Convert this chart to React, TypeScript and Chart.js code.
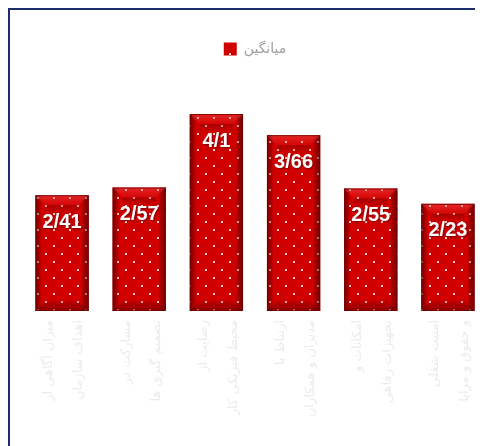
import { useEffect, useRef } from "react";
import { Chart, registerables } from "chart.js";

Chart.register(...registerables);

const categories: string[][] = [
  ["میزان آگاهی از", "اهداف سازمان"],
  ["مشارکت در", "تصمیم گیری ها"],
  ["رضایت از", "محیط فیزیکی کار"],
  ["ارتباط با", "مدیران و همکاران"],
  ["امکانات و", "تجهیزات رفاهی"],
  ["امنیت شغلی", "و حقوق و مزایا"],
];
const values: number[] = [2.41, 2.57, 4.1, 3.66, 2.55, 2.23];
const seriesName = "میانگین";

const fmt = (v: number) => String(v).replace(".", "/");

export default function App() {
  const ref = useRef<HTMLCanvasElement>(null);

  useEffect(() => {
    const canvas = ref.current!;
    const tile = document.createElement("canvas");
    tile.width = 16;
    tile.height = 16;
    const t = tile.getContext("2d")!;
    t.fillStyle = "#d00000";
    t.fillRect(0, 0, 16, 16);
    t.fillStyle = "rgba(255,230,230,0.9)";
    t.fillRect(3, 3, 2, 2);
    t.fillRect(11, 11, 2, 2);
    const pattern = canvas.getContext("2d")!.createPattern(tile, "repeat")!;

    const bevel = {
      id: "bevel",
      afterDatasetsDraw(chart: any) {
        const ctx = chart.ctx as CanvasRenderingContext2D;
        const meta = chart.getDatasetMeta(0);
        meta.data.forEach((el: any, i: number) => {
          const { x, y, base, width } = el.getProps(["x", "y", "base", "width"], true);
          const l = x - width / 2;
          const r = x + width / 2;
          const top = y;
          const bot = base;
          ctx.save();
          const g = ctx.createLinearGradient(l, 0, r, 0);
          g.addColorStop(0, "rgba(70,0,0,0.6)");
          g.addColorStop(0.12, "rgba(0,0,0,0)");
          g.addColorStop(0.86, "rgba(0,0,0,0)");
          g.addColorStop(1, "rgba(70,0,0,0.65)");
          ctx.fillStyle = g;
          ctx.fillRect(l, top, r - l, bot - top);
          const b = 10;
          const gt = ctx.createLinearGradient(0, top, 0, top + b);
          gt.addColorStop(0, "rgba(255,90,90,0.45)");
          gt.addColorStop(1, "rgba(255,60,60,0.1)");
          ctx.fillStyle = gt;
          ctx.beginPath();
          ctx.moveTo(l, top);
          ctx.lineTo(r, top);
          ctx.lineTo(r - b, top + b);
          ctx.lineTo(l + b, top + b);
          ctx.closePath();
          ctx.fill();
          const gs = ctx.createLinearGradient(0, top + b, 0, top + b + 8);
          gs.addColorStop(0, "rgba(90,0,0,0.35)");
          gs.addColorStop(1, "rgba(90,0,0,0)");
          ctx.fillStyle = gs;
          ctx.fillRect(l + b, top + b, r - l - 2 * b, 8);
          const gb = ctx.createLinearGradient(0, bot - b, 0, bot);
          gb.addColorStop(0, "rgba(80,0,0,0.15)");
          gb.addColorStop(1, "rgba(80,0,0,0.5)");
          ctx.fillStyle = gb;
          ctx.beginPath();
          ctx.moveTo(l + b, bot - b);
          ctx.lineTo(r - b, bot - b);
          ctx.lineTo(r, bot);
          ctx.lineTo(l, bot);
          ctx.closePath();
          ctx.fill();
          ctx.strokeStyle = "rgba(110,0,0,0.8)";
          ctx.lineWidth = 1;
          ctx.strokeRect(l + 0.5, top + 0.5, r - l - 1, bot - top - 1);

          ctx.font = "bold 20px 'Liberation Sans', Arial, sans-serif";
          ctx.textAlign = "center";
          ctx.textBaseline = "middle";
          ctx.shadowColor = "rgba(60,0,0,0.6)";
          ctx.shadowBlur = 2;
          ctx.shadowOffsetX = 1;
          ctx.shadowOffsetY = 1;
          ctx.fillStyle = "#ffffff";
          ctx.fillText(fmt(values[i]), x, top + 27);
          ctx.restore();
        });
      },
    };

    const chart = new Chart(canvas, {
      type: "bar",
      data: {
        labels: categories,
        datasets: [
          {
            label: seriesName,
            data: values,
            backgroundColor: pattern as any,
            borderWidth: 0,
            categoryPercentage: 1,
            barPercentage: 0.69,
          },
        ],
      },
      options: {
        responsive: false,
        animation: false,
        layout: { padding: { left: 13.5, right: 13.5, top: 22, bottom: 0 } },
        plugins: {
          legend: {
            display: true,
            position: "top",
            labels: {
              boxWidth: 13,
              boxHeight: 13,
              padding: 10,
              color: "#a0a0a0",
              font: { size: 14, family: "'DejaVu Sans', sans-serif" },
            },
          },
          tooltip: { enabled: false },
        },
        scales: {
          x: {
            grid: { display: false, drawTicks: false },
            border: { display: false },
            ticks: {
              color: "#ececec",
              maxRotation: 90,
              minRotation: 90,
              padding: 9,
              labelOffset: -13,
              autoSkip: false,
              font: { size: 13, family: "'DejaVu Sans', sans-serif", lineHeight: 2.3 },
            },
            afterFit: (scale: any) => {
              scale.height = 140;
              scale.paddingLeft = 0;
              scale.paddingRight = 0;
            },
          },
          y: { display: false, min: 0, max: 5.1 },
        },
      },
      plugins: [bevel],
    });
    return () => chart.destroy();
  }, []);

  return (
    <div style={{ width: 475, height: 438, overflow: "hidden" }}>
      <div
        style={{
          width: 490,
          height: 441,
          border: "2px solid #1c2f6b",
          background: "#ffffff",
        }}
      >
        <canvas ref={ref} width={490} height={441} style={{ display: "block", width: 490, height: 441 }} />
      </div>
    </div>
  );
}
